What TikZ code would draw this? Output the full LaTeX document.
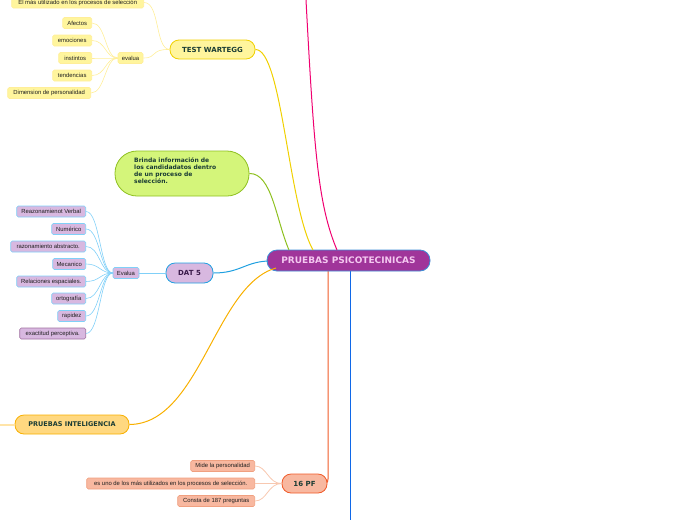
\documentclass[tikz,border=0pt]{standalone}
\usepackage{fontspec}
\setmainfont{Liberation Sans}
\newfontfamily\titlefont{DejaVu Sans}
\definecolor{cpurple}{HTML}{A0359A}
\definecolor{cblueb}{HTML}{3D8FD6}
\definecolor{ctxtpink}{HTML}{F4C8F0}
\definecolor{cyfill}{HTML}{FFF59D}
\definecolor{cyline}{HTML}{F0D000}
\definecolor{cylight}{HTML}{FFEE99}
\definecolor{cgfill}{HTML}{D4F57A}
\definecolor{cgline}{HTML}{8EC020}
\definecolor{clav}{HTML}{D8B8E0}
\definecolor{cdatb}{HTML}{20A0E0}
\definecolor{clblue}{HTML}{80D0F8}
\definecolor{cofill}{HTML}{FFD880}
\definecolor{coline}{HTML}{F8B000}
\definecolor{colight}{HTML}{FFE4A8}
\definecolor{csfill}{HTML}{F8B8A0}
\definecolor{csline}{HTML}{F05A28}
\definecolor{cslight}{HTML}{F8C8B0}
\definecolor{csleafb}{HTML}{F0A080}
\definecolor{cpink}{HTML}{F00070}
\definecolor{cbluel}{HTML}{1068E8}
\definecolor{cdkgreen}{HTML}{1A3C34}
\definecolor{cdkpurple}{HTML}{3A1A4A}
\definecolor{cpurpb}{HTML}{A070A0}
\tikzset{
  mainnode/.style={draw, rounded corners=9pt, line width=0.8pt, inner sep=0pt, font=\titlefont\bfseries\fontsize{7}{8}\selectfont, text=cdkgreen},
  leaf/.style={draw, rounded corners=1.5pt, line width=0.6pt, inner sep=0pt, minimum height=11pt, font=\fontsize{5.9}{7}\selectfont, text=black!88},
  ylink/.style={draw=cylight, line width=0.6pt},
  blink/.style={draw=clblue, line width=0.6pt},
  slink/.style={draw=cslight, line width=0.8pt},
}
\begin{document}
\begin{tikzpicture}[x=1pt,y=-1pt]
\useasboundingbox (0,0) rectangle (696,520);

% connectors to central (drawn first, under the nodes)
\coordinate (pinktop) at (306,0);
\coordinate (bluebot) at (350,520);
\draw[cbluel, line width=0.85pt] (350,262) -- (bluebot);
\draw[csline, line width=1pt] (328,262) -- (328,479) .. controls (328,482) .. (324,483.5);

% central
\node[mainnode, fill=cpurple, draw=cblueb, text=ctxtpink, minimum width=163pt, minimum height=21pt, rounded corners=10pt, font=\titlefont\bfseries\fontsize{9}{10}\selectfont] (central) at (348.5,260.5) {PRUEBAS PSICOTECINICAS};

% TEST WARTEGG
\node[mainnode, fill=cyfill, draw=cyline, minimum width=85pt, minimum height=19pt] (wartegg) at (212.5,49.5) {TEST WARTEGG};
\node[leaf, fill=cyfill, draw=cylight, minimum width=25pt] (evalua) at (130.5,58) {evalua};
\node[leaf, fill=cyfill, draw=cylight, anchor=east, minimum width=132pt] (masutil) at (144,2.5) {El más utilizado en los procesos de selección};
\node[leaf, fill=cyfill, draw=cylight, anchor=east, minimum width=29pt] (afectos) at (92,23) {Afectos};
\node[leaf, fill=cyfill, draw=cylight, anchor=east, minimum width=39pt] (emociones) at (92,40.5) {emociones};
\node[leaf, fill=cyfill, draw=cylight, anchor=east, minimum width=33pt] (instintos) at (92,58) {instintos};
\node[leaf, fill=cyfill, draw=cylight, anchor=east, minimum width=39pt] (tendencias) at (92,75.5) {tendencias};
\node[leaf, fill=cyfill, draw=cylight, anchor=east, minimum width=83pt] (dimension) at (91,93) {Dimension de personalidad};

\foreach \n in {afectos,emociones,instintos,tendencias,dimension}
  \draw[ylink] (\n.east) .. controls +(14,0) and (105,58) .. (evalua.west);
\draw[ylink] (evalua.east) .. controls (158,58) and (150,49) .. (wartegg.west);
\draw[ylink] (masutil.east) .. controls (160,2.5) and (155,49) .. (wartegg.west);

% Brinda
\node[draw=cgline, fill=cgfill, line width=0.8pt, rounded corners=22pt, minimum width=134pt, minimum height=45pt, inner sep=0pt] (brinda) at (182,173.5) {};
\node[anchor=north west, align=left, inner sep=0pt, font=\titlefont\bfseries\fontsize{6}{7.3}\selectfont, text=cdkgreen] (brindatxt) at (134,157) {Brinda información de\\los candidadatos dentro\\de un proceso de\\selección.};

% DAT 5
\node[mainnode, fill=clav, draw=cdatb, text=cdkpurple, minimum width=47pt, minimum height=20pt] (dat) at (189.5,273) {DAT 5};
\node[leaf, fill=clav, draw=clblue, minimum width=26pt] (devalua) at (126,273) {Evalua};
\node[leaf, fill=clav, draw=clblue, anchor=east, minimum width=69pt] (d1) at (86,211.5) {Reazonamienot Verbal};
\node[leaf, fill=clav, draw=clblue, anchor=east, minimum width=34pt] (d2) at (86,229) {Numérico};
\node[leaf, fill=clav, draw=clblue, anchor=east, minimum width=75pt] (d3) at (86,246.5) {razonamiento abstracto.};
\node[leaf, fill=clav, draw=clblue, anchor=east, minimum width=33pt] (d4) at (86,264) {Mecanico};
\node[leaf, fill=clav, draw=clblue, anchor=east, minimum width=69pt] (d5) at (86,281.5) {Relaciones espaciales.};
\node[leaf, fill=clav, draw=clblue, anchor=east, minimum width=34pt] (d6) at (86,298.5) {ortografía};
\node[leaf, fill=clav, draw=clblue, anchor=east, minimum width=28pt] (d7) at (86,316) {rapidez};
\node[leaf, fill=clav, draw=cpurpb, anchor=east, minimum width=66pt] (d8) at (86,333.5) {exactitud perceptiva.};
\foreach \n in {d1,d2,d3,d4,d5,d6,d7,d8}
  \draw[blink] (\n.east) .. controls +(14,0) and (100,273) .. (devalua.west);
\draw[blink] (devalua.east) -- (dat.west);

% PRUEBAS INTELIGENCIA
\node[mainnode, fill=cofill, draw=coline, minimum width=114pt, minimum height=19pt, font=\titlefont\bfseries\fontsize{6.5}{7.5}\selectfont] (intel) at (72,424.5) {PRUEBAS INTELIGENCIA};
\coordinate (intelout) at (0,424.5);
\draw[draw=colight, line width=2pt] (intel.west) -- (intelout);

% 16 PF
\node[mainnode, fill=csfill, draw=csline, minimum width=45pt, minimum height=19pt] (pf) at (304.5,483.5) {16 PF};
\node[leaf, fill=csfill, draw=csleafb, anchor=east, minimum width=64pt] (p1) at (255,466) {Mide la personalidad};
\node[leaf, fill=csfill, draw=csleafb, anchor=east, minimum width=168pt] (p2) at (255,483.5) {es uno de los más utilizados en los procesos de selección.};
\node[leaf, fill=csfill, draw=csleafb, anchor=east, minimum width=77pt] (p3) at (255,501) {Consta de 187 preguntas};
\foreach \n in {p1,p2,p3}
  \draw[slink] (\n.east) .. controls +(12,0) and (268,483.5) .. (pf.west);

\draw[cyline, line width=1pt] (wartegg.east) .. controls (282,49) and (288,205) .. (313,250);
\draw[cpink, line width=1pt] (pinktop) .. controls (314,150) and (318,205) .. (337,250);
\draw[cgline, line width=1pt] (brinda.east) .. controls (272,173) and (276,220) .. (289,250);
\draw[cdatb, line width=1pt] (dat.east) .. controls (240,273) and (245,262) .. (268,261);
\draw[coline, line width=1pt] (intel.east) .. controls (200,424) and (215,285) .. (276,268);
\end{tikzpicture}
\end{document}
